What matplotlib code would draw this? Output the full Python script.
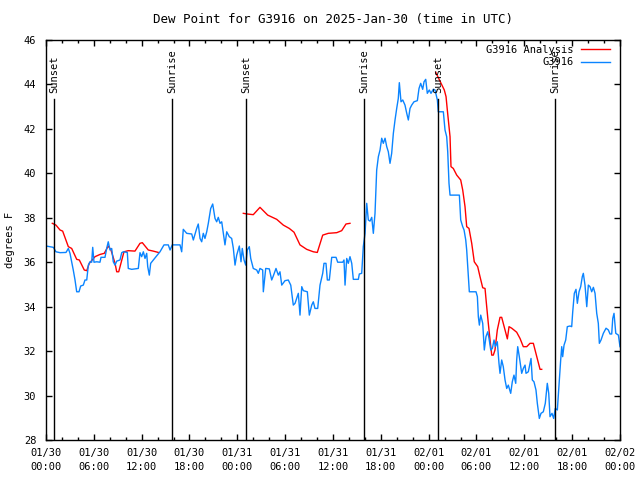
import matplotlib
matplotlib.use("Agg")
import matplotlib.pyplot as plt
import matplotlib.dates as mdates
from matplotlib.lines import Line2D
import pandas as pd

start = pd.Timestamp("2025-01-30 00:00")

# hours since 01/30 00:00 UTC, dew point in F
obs_hours = [0, 0.92, 1.25, 1.76, 2.51, 2.80, 3.01, 3.22, 3.42, 3.64, 3.85, 4.14, 4.35, 4.68,
             4.89, 5.11, 5.31, 5.52, 5.73, 5.86, 6.02, 6.36, 6.77, 6.90, 7.40, 7.61, 7.81, 8.03,
             8.24, 8.44, 8.66, 8.87, 9.28, 9.50, 9.70, 10.20, 10.32, 10.75, 11.58, 11.79, 12.00,
             12.21, 12.42, 12.63, 12.76, 12.96, 13.13, 13.46, 13.80, 14.30, 14.80, 15.34, 15.56,
             15.84, 16.81, 17.02, 17.22, 17.65, 18.28, 18.48, 18.90, 19.10, 19.32, 19.53, 19.73,
             19.94, 20.16, 20.36, 20.66, 20.91, 21.20, 21.41, 21.61, 21.83, 22.04, 22.24, 22.45,
             22.67, 22.99, 23.29, 23.50, 23.71, 23.92, 24.25, 24.46, 24.62, 24.84, 25.05, 25.25,
             25.50, 25.68, 26.00, 26.43, 26.63, 26.84, 27.18, 27.26, 27.56, 28.01, 28.31, 28.51,
             28.85, 29.14, 29.35, 29.57, 29.98, 30.39, 30.70, 31.02, 31.24, 31.65, 31.86, 32.08,
             32.28, 32.78, 33.03, 33.33, 33.53, 33.74, 34.08, 34.37, 34.71, 34.87, 35.12, 35.29,
             35.54, 35.84, 36.38, 36.59, 37.22, 37.38, 37.51, 37.72, 37.92, 38.13, 38.35, 38.55,
             39.18, 39.30, 39.60, 39.80, 40.02, 40.23, 40.43, 40.64, 40.86, 41.06, 41.27, 41.48,
             41.69, 41.90, 42.11, 42.31, 42.53, 42.74, 42.94, 43.15, 43.36, 43.57, 43.78, 43.99,
             44.19, 44.32, 44.53, 44.75, 45.03, 45.25, 45.45, 45.66, 45.87, 46.16, 46.58, 46.79,
             47.00, 47.25, 47.42, 47.63, 47.83, 48.08, 48.29, 48.58, 48.80, 49.09, 49.21, 49.84,
             50.05, 50.26, 50.39, 50.55, 50.68, 51.85, 52.02, 52.27, 52.44, 52.65, 52.77, 52.98,
             53.10, 53.94, 54.11, 54.23, 54.36, 54.53, 54.78, 54.98, 55.19, 55.41, 55.57, 55.79,
             55.99, 56.20, 56.36, 56.61, 56.82, 56.95, 57.16, 57.36, 57.58, 57.79, 57.99, 58.29,
             58.49, 58.70, 58.92, 59.04, 59.17, 59.37, 59.67, 59.87, 60.09, 60.21, 60.50, 60.71,
             60.84, 61.00, 61.21, 61.46, 61.63, 61.88, 62.09, 62.38, 62.63, 62.88, 63.06, 63.22,
             63.47, 63.68, 63.88, 64.14, 64.39, 64.56, 64.69, 64.81, 64.98, 65.19, 65.39, 65.73,
             65.94, 66.07, 66.27, 66.48, 66.65, 66.86, 67.07, 67.27, 67.40, 67.61, 67.83, 68.03,
             68.24, 68.45, 68.66, 68.87, 69.08, 69.28, 69.41, 69.62, 69.91, 70.25, 70.54, 70.75,
             70.96, 71.09, 71.25, 71.47, 71.80, 72.0]
obs_vals = [36.73, 36.67, 36.47, 36.43, 36.44, 36.62, 36.4, 36.02, 35.65, 35.2, 34.67, 34.67, 34.93,
            34.97, 35.2, 35.2, 35.87, 36.02, 36.0, 36.67, 36.0, 36.02, 36.0, 36.22, 36.22, 36.62,
            36.92, 36.55, 36.62, 36.02, 35.87, 36.05, 36.1, 36.43, 36.47, 36.44, 35.72, 35.68,
            35.72, 36.43, 36.25, 36.47, 36.17, 36.4, 35.8, 35.42, 35.95, 36.1, 36.25, 36.47, 36.78,
            36.78, 36.55, 36.78, 36.78, 36.47, 37.48, 37.3, 37.27, 37.0, 37.52, 37.72, 37.07,
            36.92, 37.3, 37.07, 37.37, 37.75, 38.42, 38.62, 37.97, 37.82, 38.02, 37.75, 37.82,
            37.3, 36.78, 37.37, 37.15, 37.07, 36.62, 35.87, 36.32, 36.73, 36.02, 36.62, 36.1,
            35.87, 36.55, 36.7, 36.17, 35.72, 35.65, 35.5, 35.72, 35.65, 34.67, 35.72, 35.7, 35.2,
            35.38, 35.72, 35.42, 35.57, 34.97, 35.17, 35.2, 34.97, 34.07, 34.15, 34.6, 33.62, 34.9,
            34.72, 34.67, 33.62, 34.07, 34.22, 33.92, 33.92, 34.97, 35.5, 35.95, 35.95, 35.2, 35.2,
            36.22, 36.22, 36.0, 36.0, 36.1, 34.97, 36.17, 35.95, 36.25, 35.95, 35.23, 35.23, 35.47,
            35.5, 36.7, 37.3, 38.65, 37.9, 37.85, 38.02, 37.3, 38.2, 40.15, 40.75, 41.05, 41.58,
            41.35, 41.58, 41.2, 40.97, 40.45, 40.9, 41.8, 42.4, 42.92, 43.37, 44.08, 43.22, 43.3,
            43.07, 42.7, 42.4, 42.92, 43.07, 43.22, 43.27, 43.82, 44.05, 43.78, 44.12, 44.23,
            43.6, 43.75, 43.6, 43.78, 43.75, 43.3, 42.77, 42.77, 41.95, 41.65, 40.97, 39.55, 39.02,
            39.02, 37.9, 37.6, 37.45, 37.0, 36.55, 35.35, 34.67, 34.67, 34.45, 33.55, 33.17, 33.62,
            33.25, 32.05, 32.65, 32.87, 32.57, 32.05, 32.12, 32.5, 32.2, 32.42, 31.45, 31.0, 31.6,
            31.3, 30.7, 30.32, 30.47, 30.1, 30.62, 30.92, 30.55, 31.6, 32.2, 31.75, 31.0, 31.22,
            31.37, 31.0, 31.07, 31.45, 31.67, 30.7, 30.62, 30.25, 29.65, 28.97, 29.2, 29.27, 29.65,
            30.55, 30.1, 29.05, 29.2, 28.97, 29.42, 29.35, 30.7, 31.6, 32.2, 31.75, 32.27, 32.5,
            33.1, 33.13, 33.1, 33.77, 34.6, 34.78, 34.15, 34.67, 34.9, 35.35, 35.5, 34.97, 34.0,
            34.97, 34.9, 34.67, 34.87, 34.6, 33.7, 33.25, 32.35, 32.5, 32.8, 33.03, 32.95, 32.77,
            32.77, 33.47, 33.7, 32.8, 32.72, 32.2]

# analysis comes in three separate runs
ana1_hours = [0.79, 1.25, 1.76, 2.09, 2.80, 3.22, 3.85, 4.18, 4.80, 5.11, 5.43, 6.15, 6.77, 7.31,
              7.81, 8.15, 8.66, 8.87, 9.12, 9.78, 10.32, 11.16, 11.79, 12.08, 12.83, 13.46, 14.09]
ana1_vals = [37.75, 37.67, 37.45, 37.4, 36.7, 36.62, 36.13, 36.1, 35.65, 35.62, 35.95, 36.25, 36.35,
             36.4, 36.73, 36.55, 35.95, 35.57, 35.57, 36.47, 36.52, 36.5, 36.85, 36.88, 36.55,
             36.5, 36.44]
ana2_hours = [24.75, 25.25, 26.00, 26.84, 27.81, 28.94, 29.77, 30.52, 31.11, 31.86, 32.70, 33.53,
              34.03, 34.71, 35.41, 36.47, 37.09, 37.63, 38.13]
ana2_vals = [38.2, 38.17, 38.14, 38.47, 38.12, 37.93, 37.67, 37.52, 37.35, 36.78, 36.58, 36.47,
             36.44, 37.22, 37.3, 37.33, 37.42, 37.72, 37.75]
ana3_hours = [48.88, 49.96, 50.18, 50.34, 50.68, 50.80, 51.09, 51.52, 52.02, 52.27, 52.56, 52.77,
              53.06, 53.40, 53.72, 54.15, 54.44, 54.78, 55.07, 55.28, 55.48, 55.70, 55.91, 56.11,
              56.32, 56.61, 56.95, 57.16, 57.58, 57.87, 58.08, 58.42, 59.04, 59.46, 59.87, 60.30,
              60.71, 61.13, 61.56, 61.97, 62.18]
ana3_vals = [44.55, 43.75, 43.45, 42.85, 41.65, 40.3, 40.22, 39.92, 39.7, 39.25, 38.5, 37.6, 37.52,
             36.85, 36.02, 35.8, 35.35, 34.85, 34.82, 34.0, 33.25, 32.5, 31.82, 31.82, 32.05,
             32.95, 33.52, 33.52, 32.95, 32.55, 33.1, 33.03, 32.85, 32.57, 32.2, 32.2, 32.35,
             32.35, 31.75, 31.18, 31.18]

sun_hours = [1.0, 15.81, 25.13, 39.93, 49.21, 63.89]
sun_labels = ["Sunset", "Sunrise", "Sunset", "Sunrise", "Sunset", "Sunrise"]


def to_time(hours):
    return [start + pd.Timedelta(hours=h) for h in hours]


plt.rcParams["font.family"] = ["DejaVu Sans Mono"]
plt.rcParams["font.size"] = 7.5

fig = plt.figure(figsize=(6.4, 4.8), dpi=100)
ax = fig.add_axes([46 / 640, 40 / 480, 574 / 640, 400 / 480])

red = "#ff0000"
blue = "#0a84ff"
for hrs, vals in [(ana1_hours, ana1_vals), (ana2_hours, ana2_vals), (ana3_hours, ana3_vals)]:
    ax.plot(to_time(hrs), vals, color=red, lw=1.0)
ax.plot(to_time(obs_hours), obs_vals, color=blue, lw=1.0)

# sunrise / sunset markers
for h, lab in zip(sun_hours, sun_labels):
    t = start + pd.Timedelta(hours=h)
    ax.plot([t, t], [28, 43.35], color="black", lw=1.0)
    ax.text(t, 43.62, lab, rotation=90, ha="center", va="bottom")

ax.set_xlim(start, start + pd.Timedelta(hours=72))
ax.set_ylim(28, 46)
ax.set_yticks(range(28, 47, 2))
ax.xaxis.set_major_locator(mdates.HourLocator(byhour=[0, 6, 12, 18]))
ax.xaxis.set_minor_locator(mdates.HourLocator(interval=2))
ax.xaxis.set_major_formatter(mdates.DateFormatter("%m/%d\n%H:%M"))

ax.tick_params(which="both", direction="in", top=True, right=True, width=1.0)
ax.tick_params(which="major", length=4.5)
ax.tick_params(which="minor", length=2.5)
ax.tick_params(axis="x", pad=6)
ax.tick_params(axis="y", pad=7)
for lab in ax.get_xticklabels():
    lab.set_linespacing(1.5)
for s in ax.spines.values():
    s.set_linewidth(1.0)

ax.set_title("Dew Point for G3916 on 2025-Jan-30 (time in UTC)", pad=12)
fig.text(0.015, 0.5, "degrees F", rotation=90, ha="center", va="center")

handles = [Line2D([], [], color=red, lw=1.0), Line2D([], [], color=blue, lw=1.0)]
ax.legend(handles, ["G3916 Analysis", "G3916"], loc="upper right",
          bbox_to_anchor=(0.983, 0.988), frameon=False, markerfirst=False,
          handlelength=2.8, handletextpad=0.7, labelspacing=0.25, borderpad=0,
          borderaxespad=0)

fig.savefig("out.png", dpi=100)
